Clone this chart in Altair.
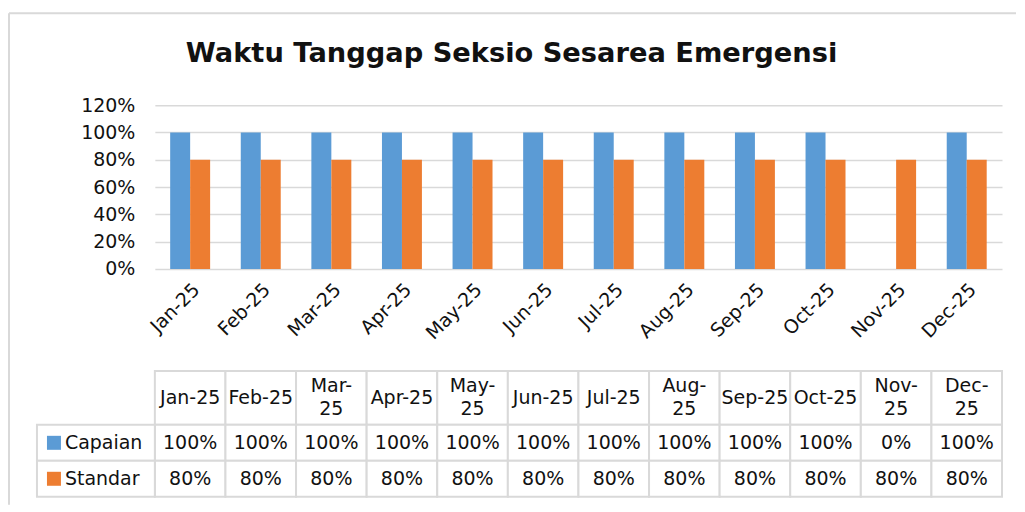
import altair as alt
import pandas as pd

months = ["Jan-25", "Feb-25", "Mar-25", "Apr-25", "May-25", "Jun-25",
          "Jul-25", "Aug-25", "Sep-25", "Oct-25", "Nov-25", "Dec-25"]
header_labels = ["Jan-25", "Feb-25", "Mar-\n25", "Apr-25", "May-\n25", "Jun-25",
                 "Jul-25", "Aug-\n25", "Sep-25", "Oct-25", "Nov-\n25", "Dec-\n25"]
capaian = [1.0, 1.0, 1.0, 1.0, 1.0, 1.0, 1.0, 1.0, 1.0, 1.0, 0.0, 1.0]
standar = [0.8, 0.8, 0.8, 0.8, 0.8, 0.8, 0.8, 0.8, 0.8, 0.8, 0.8, 0.8]
series_names = ["Capaian", "Standar"]
series_colors = ["#5b9bd5", "#ed7d31"]
y_ticks = [0, 0.2, 0.4, 0.6, 0.8, 1.0, 1.2]
title_text = "Waktu Tanggap Seksio Sesarea Emergensi"

FONT = "DejaVu Sans"
FS = 19
TXT = "#111111"
GRID = "#d9d9d9"
LINE_H = 23

long_df = pd.DataFrame(
    [{"month": m, "series": "Capaian", "value": v} for m, v in zip(months, capaian)]
    + [{"month": m, "series": "Standar", "value": v} for m, v in zip(months, standar)]
)

color = alt.Color("series:N", scale=alt.Scale(domain=series_names, range=series_colors), legend=None)

W = 848

bars = alt.Chart(long_df).mark_bar().encode(
    x=alt.X("month:N", sort=months, title=None,
            scale=alt.Scale(paddingInner=0.434, paddingOuter=0.217),
            axis=alt.Axis(labelAngle=-45, ticks=False, domain=False, labelFont=FONT,
                          labelFontSize=FS, labelColor=TXT, labelAlign="right",
                          labelBaseline="top", labelPadding=11)),
    xOffset=alt.XOffset("series:N", sort=series_names),
    y=alt.Y("value:Q", title=None,
            scale=alt.Scale(domain=[0, 1.2], nice=False),
            axis=alt.Axis(values=y_ticks, format=".0%", ticks=False, domain=False,
                          gridColor=GRID, gridWidth=1.5, labelFont=FONT, labelFontSize=FS,
                          labelColor=TXT, labelPadding=20)),
    color=color,
)

one = pd.DataFrame({"title": [title_text]})
frame_top = alt.Chart(one).mark_rule(color=GRID, strokeWidth=2).encode(
    x=alt.value(-146), x2=alt.value(862), y=alt.value(-92))
frame_left = alt.Chart(one).mark_rule(color=GRID, strokeWidth=2).encode(
    x=alt.value(-146), y=alt.value(-92), y2=alt.value(400))
title = alt.Chart(one).mark_text(font=FONT, fontSize=27.3, fontWeight="bold", color=TXT,
                                 align="center", baseline="alphabetic").encode(
    x=alt.value(357), y=alt.value(-43), text="title:N")

top_chart = alt.layer(frame_top, frame_left, title, bars).properties(width=W, height=164)

# table
n_lines = [lab.count("\n") + 1 for lab in header_labels]
header_df = pd.DataFrame({"month": months, "label": header_labels,
                          "top": [0] * 12, "bottom": [54] * 12,
                          "mid": [27 - (n - 1) * LINE_H / 2 for n in n_lines]})
row_top = {"Capaian": 54, "Standar": 90}
cells_df = pd.DataFrame(
    [{"month": m, "series": s, "value": v, "top": row_top[s], "bottom": row_top[s] + 36,
      "mid": row_top[s] + 18}
     for s, vals in zip(series_names, [capaian, standar]) for m, v in zip(months, vals)]
)
labels_df = pd.DataFrame({"series": series_names,
                          "top": [row_top[s] for s in series_names],
                          "bottom": [row_top[s] + 36 for s in series_names],
                          "mid": [row_top[s] + 18 for s in series_names]})

xs = alt.X("month:N", sort=months, scale=alt.Scale(paddingInner=0, paddingOuter=0), axis=None)
yscale = alt.Scale(domain=[0, 126], reverse=True, nice=False)

hdr_rect = alt.Chart(header_df).mark_rect(fill="white", stroke=GRID, strokeWidth=2).encode(
    x=xs, y=alt.Y("top:Q", scale=yscale, axis=None), y2="bottom:Q")
cell_rect = alt.Chart(cells_df).mark_rect(fill="white", stroke=GRID, strokeWidth=2).encode(
    x=xs, y=alt.Y("top:Q", scale=yscale, axis=None), y2="bottom:Q")
lab_rect = alt.Chart(labels_df).mark_rect(fill="white", stroke=GRID, strokeWidth=2).encode(
    x=alt.value(-118), x2=alt.value(0), y=alt.Y("top:Q", scale=yscale, axis=None), y2="bottom:Q")
hdr_text = alt.Chart(header_df).mark_text(font=FONT, fontSize=FS, color=TXT, lineBreak="\n",
                                          lineHeight=LINE_H, baseline="middle").encode(
    x=xs, y=alt.Y("mid:Q", scale=yscale, axis=None), text="label:N")
cell_text = alt.Chart(cells_df).mark_text(font=FONT, fontSize=FS, color=TXT, baseline="middle").encode(
    x=xs, y=alt.Y("mid:Q", scale=yscale, axis=None), text=alt.Text("value:Q", format=".0%"))
lab_text = alt.Chart(labels_df).mark_text(font=FONT, fontSize=FS, color=TXT, align="left",
                                          baseline="middle").encode(
    x=alt.value(-90), y=alt.Y("mid:Q", scale=yscale, axis=None), text="series:N")
lab_sq = alt.Chart(labels_df).mark_square(size=196, opacity=1).encode(
    x=alt.value(-101), y=alt.Y("mid:Q", scale=yscale, axis=None), color=color)

table = alt.layer(hdr_rect, cell_rect, lab_rect, hdr_text, cell_text, lab_text, lab_sq).properties(
    width=W, height=126)

chart = alt.VConcatChart(
    vconcat=[top_chart, table], spacing=102, bounds="flush",
).resolve_scale(color="shared").properties(
    padding={"left": 0, "top": 4, "right": 0, "bottom": 0},
).configure_view(stroke=None)

chart.save("out.html", embed_options={"renderer": "svg", "actions": False})
